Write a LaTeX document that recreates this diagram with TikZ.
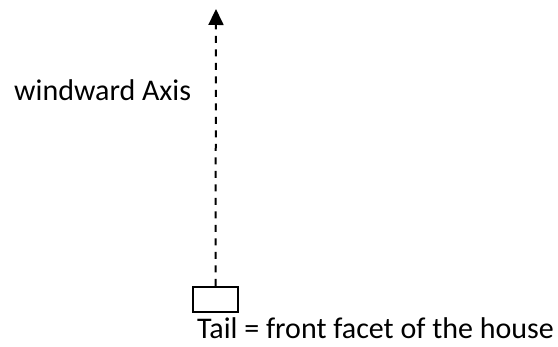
\documentclass[tikz,border=0pt]{standalone}
\usepackage{fontspec}
\setmainfont{Carlito}
\usetikzlibrary{positioning,arrows.meta}
\tikzset{
  facet/.style={draw, line width=2pt, minimum width=45pt, minimum height=25pt, inner sep=0pt},
  axisline/.style={-{Triangle[length=16pt,width=15pt]}, line width=2pt, dash pattern=on 7pt off 6.5pt},
  lbl/.style={font=\fontsize{30}{35}\selectfont, inner sep=0pt},
}
\begin{document}
\begin{tikzpicture}[x=1pt,y=-1pt]
    \useasboundingbox (0,0) rectangle (558,347);
    \node[facet] (tail) at (215.5,299.5) {};
    \coordinate (head) at (216,9);
    \draw[axisline] (tail.north) -- (head);
    \node[lbl, anchor=base west] (axis) at (14,101) {windward Axis};
    \node[lbl, anchor=base west] (front) at (197,339) {Tail = front facet of the house};
  \end{tikzpicture}
\end{document}
